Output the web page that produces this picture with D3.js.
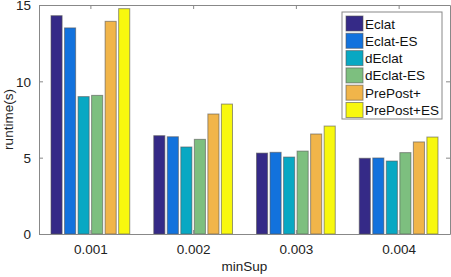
<!DOCTYPE html>
<html>
<head>
<meta charset="utf-8">
<script src="https://cdn.jsdelivr.net/npm/d3@7"></script>
<style>
body { margin: 0; background: #fff; }
text { font-family: "Liberation Sans", Arial, sans-serif; }
</style>
</head>
<body>
<div id="chart"></div>
<script>
var categories = ["0.001", "0.002", "0.003", "0.004"];
var algorithms = ["Eclat", "Eclat-ES", "dEclat", "dEclat-ES", "PrePost+", "PrePost+ES"];
var colors = ["#352a87", "#1272dd", "#08a8c3", "#7dbf7f", "#f1b54a", "#f8f80e"];

var eclat     = [14.3, 6.44, 5.30, 4.96];
var eclatES   = [13.5, 6.37, 5.35, 4.98];
var declat    = [9.0, 5.70, 5.04, 4.78];
var declatES  = [9.08, 6.20, 5.43, 5.33];
var prepost   = [13.93, 7.86, 6.55, 6.03];
var prepostES = [14.76, 8.51, 7.07, 6.35];
var yTicks = [0, 5, 10, 15];

var series = [eclat, eclatES, declat, declatES, prepost, prepostES];

var W = 451, H = 277;
var mLeft = 39, mRight = 450, mTop = 5, mBottom = 234;

var svg = d3.select("#chart").append("svg")
    .attr("width", W).attr("height", H);

var x = d3.scaleLinear().domain([0.5, 4.5]).range([mLeft, mRight]);
var y = d3.scaleLinear().domain([0, 15]).range([mBottom, mTop]);

var groupW = 0.79;
var barStep = groupW / algorithms.length;
var barW = barStep * 0.82;

// bars
series.forEach(function(vals, s) {
    svg.selectAll(".bar" + s)
        .data(vals)
        .enter()
        .append("rect")
        .attr("x", function(d, i) { return x(i + 1 - groupW / 2 + s * barStep + (barStep - barW) / 2); })
        .attr("width", x(barW) - x(0))
        .attr("y", function(d) { return y(d); })
        .attr("height", function(d) { return y(0) - y(d); })
        .attr("fill", colors[s])
        .attr("stroke", "#555")
        .attr("stroke-opacity", 0.6)
        .attr("stroke-width", 1);
});

// axes box
var axisColor = "#888";
var xAxis = d3.axisBottom(x).tickValues([1, 2, 3, 4])
    .tickFormat(function(d) { return categories[d - 1]; })
    .tickSizeInner(-4).tickSizeOuter(0).tickPadding(10);
var gx = svg.append("g").attr("transform", "translate(0," + mBottom + ")").call(xAxis);

var gxTop = svg.append("g").attr("transform", "translate(0," + mTop + ")")
    .call(d3.axisTop(x).tickValues([1, 2, 3, 4]).tickFormat("").tickSizeInner(-4).tickSizeOuter(0));

var yAxis = d3.axisLeft(y).tickValues(yTicks).tickSizeInner(-4).tickSizeOuter(0).tickPadding(8);
var gy = svg.append("g").attr("transform", "translate(" + mLeft + ",0)").call(yAxis);

var gyR = svg.append("g").attr("transform", "translate(" + mRight + ",0)")
    .call(d3.axisRight(y).tickValues(yTicks).tickFormat("").tickSizeInner(-4).tickSizeOuter(0));

[gx, gxTop, gy, gyR].forEach(function(g) {
    g.select(".domain").attr("stroke", axisColor);
    g.selectAll(".tick line").attr("stroke", axisColor);
    g.selectAll(".tick text").attr("fill", "#222").attr("font-size", "13.5px")
        .attr("font-family", "'Liberation Sans', Arial, sans-serif");
});
gy.selectAll(".tick text").attr("dy", "0.36em");

// axis labels
svg.append("text")
    .attr("x", (mLeft + mRight) / 2).attr("y", 271)
    .attr("text-anchor", "middle")
    .attr("font-size", "13.5px").attr("fill", "#222")
    .text("minSup");

svg.append("text")
    .attr("transform", "translate(13," + ((mTop + mBottom) / 2) + ") rotate(-90)")
    .attr("text-anchor", "middle")
    .attr("font-size", "13.5px").attr("fill", "#222")
    .text("runtime(s)");

// legend
var lg = svg.append("g").attr("transform", "translate(342,12)");
lg.append("rect")
    .attr("width", 100).attr("height", 107)
    .attr("fill", "#fff").attr("stroke", axisColor);

var items = lg.selectAll(".item")
    .data(algorithms)
    .enter()
    .append("g")
    .attr("transform", function(d, i) { return "translate(4," + (4 + i * 17.3) + ")"; });

items.append("rect")
    .attr("width", 17).attr("height", 15)
    .attr("fill", function(d, i) { return colors[i]; })
    .attr("stroke", "#555").attr("stroke-opacity", 0.6);

items.append("text")
    .attr("x", 19).attr("y", 12.5)
    .attr("font-size", "13.5px").attr("fill", "#111")
    .text(function(d) { return d; });
</script>
</body>
</html>
